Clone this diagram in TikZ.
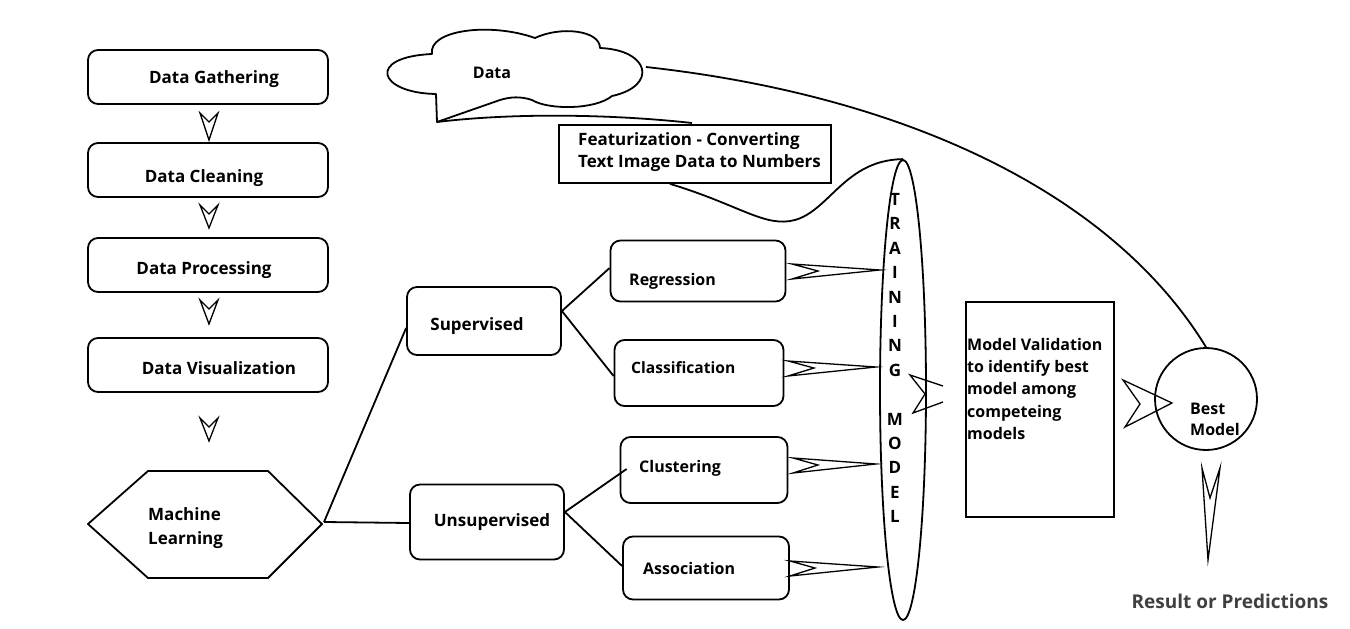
\documentclass[tikz,border=0pt]{standalone}
\usepackage{fontspec}
\setmainfont{Open Sans}
\usetikzlibrary{shapes.geometric,calc}
\begin{document}
\begin{tikzpicture}[x=1pt,y=-1pt,
  ln/.style={line width=1.8pt,line join=round},
  rbox/.style={draw,line width=1.8pt,rounded corners=10pt,inner sep=0pt},
  sbox/.style={draw,line width=1.8pt,inner sep=0pt},
  txt/.style={font=\bfseries\fontsize{16}{19}\selectfont,inner sep=0pt},
  big/.style={font=\bfseries\fontsize{17}{24}\selectfont},
  arw/.style={draw,line width=1.3pt,line join=miter,miter limit=20},
  ]
\useasboundingbox[fill=white] (0,0) rectangle (1350,629);

% left column
\node[rbox,minimum width=240pt,minimum height=54pt] (dg) at (208,77) {};
\node[txt,big] (dgt) at (214,79) {Data Gathering};
\node[rbox,minimum width=240pt,minimum height=54pt] (dc) at (208,170) {};
\node[txt,big] (dct) at (204,178) {Data Cleaning};
\node[rbox,minimum width=240pt,minimum height=54pt] (dp) at (208,265) {};
\node[txt,big] (dpt) at (204,270) {Data Processing};
\node[rbox,minimum width=240pt,minimum height=54pt] (dv) at (208,365) {};
\node[txt,big] (dvt) at (219,368) {Data Visualization};

% small down arrows
\foreach \y/\h in {113/27,205/23,300/24,418/23}{
  \draw[arw] (200,\y) -- (209,\y+\h) -- (218,\y) -- (209,\y+9) -- cycle;
}

% machine learning hexagon
\draw[ln] (88,524) -- (148,471) -- (268,471) -- (322,524) -- (268,578) -- (148,578) -- cycle;
\coordinate (mlR) at (324,522);
\node[txt,big,align=left,anchor=west] (mlt) at (148,528) {Machine\\Learning};

% cloud
\draw[ln] (437,122) -- (436,94) .. controls (378,93) and (366,57) .. (432,54)
  .. controls (428,30) and (490,22) .. (535,38)
  .. controls (560,26) and (600,30) .. (600,48)
  .. controls (650,50) and (658,86) .. (612,96)
  .. controls (595,110) and (548,110) .. (532,100)
  .. controls (520,96) and (510,97) .. (500,100) -- cycle;
\coordinate (cloudT) at (437,122);
\coordinate (cloudR) at (646,67);
\node[txt] (datat) at (492,73) {Data};
\coordinate (featTop) at (692,123);
\draw[ln] (cloudT) .. controls (520,112) and (620,115) .. (featTop);

% featurization
\node[sbox,minimum width=272pt,minimum height=58pt] (feat) at (695,154) {};
\node[txt,align=left,anchor=west,font=\bfseries\fontsize{17}{22}\selectfont] (featt) at (578,152) {Featurization - Converting\\Text Image Data to Numbers};

% training ellipse
\node[ellipse,draw,line width=1.8pt,minimum width=46pt,minimum height=460pt,inner sep=0pt] (train) at (903,390) {};
\node[font=\bfseries\fontsize{17}{24.4}\selectfont,align=center,inner sep=0pt] (traint) at (895,358)
  {T\\R\\A\\I\\N\\I\\N\\G\\[24.4pt]M\\O\\D\\E\\L};
\draw[ln] ([xshift=-25pt]feat.south) .. controls (740,205) and (765,228) .. (795,220)
  .. controls (830,210) and (845,160) .. (train.north);

% supervised / unsupervised
\node[rbox,minimum width=154pt,minimum height=68pt] (sup) at (484,321) {};
\node[txt,big] (supt) at (477,326) {Supervised};
\node[rbox,minimum width=154pt,minimum height=75pt] (uns) at (487,522) {};
\node[txt,big] (unst) at (492,522) {Unsupervised};

\node[rbox,minimum width=175pt,minimum height=61pt] (reg) at (698,271) {};
\node[txt,anchor=west] (regt) at (629,281) {Regression};
\node[rbox,minimum width=169pt,minimum height=66pt] (cla) at (699,373) {};
\node[txt,anchor=west,font=\bfseries\fontsize{15.6}{19}\selectfont] (clat) at (631,368) {Classification};
\node[rbox,minimum width=167pt,minimum height=66pt] (clu) at (704,470) {};
\node[txt,anchor=west] (clut) at (639,468) {Clustering};
\node[rbox,minimum width=166pt,minimum height=63pt] (aso) at (706,568) {};
\node[txt,anchor=west] (asot) at (643,568) {Association};

% connectors
\draw[ln] (mlR) -- ([yshift=-7pt]sup.west);
\draw[ln] (mlR) -- ([yshift=-1pt]uns.west);
\draw[ln] ([yshift=10pt]sup.east) -- ([yshift=3pt]reg.west);
\draw[ln] ([yshift=10pt]sup.east) -- ([yshift=-3pt]cla.west);
\draw[ln] ([yshift=10pt]uns.east) -- ([xshift=7pt,yshift=1pt]clu.west);
\draw[ln] ([yshift=10pt]uns.east) -- ([yshift=2pt]aso.west);

% arrows into training ellipse
\draw[arw] (792,264) -- (880,270) -- (792,279) -- (818,271) -- cycle;
\draw[arw] (788,361) -- (876,367) -- (788,376) -- (814,368) -- cycle;
\draw[arw] (793,458) -- (876,464) -- (793,473) -- (818,465) -- cycle;
\draw[arw] (790,561) -- (878,567) -- (790,576) -- (815,568) -- cycle;

% model validation
\node[sbox,minimum width=148pt,minimum height=215pt] (val) at (1040,409.5) {};
\node[txt,align=left,anchor=north west,font=\bfseries\fontsize{16}{22.3}\selectfont] (valt) at (967,338)
  {Model Validation\\to identify best\\model among\\competeing\\models};
\draw[arw] (943,386) -- (910,375) -- (925,394) -- (913,413) -- (943,402);

% best model
\node[circle,draw,line width=1.8pt,minimum size=102pt,inner sep=0pt] (best) at (1206,399) {};
\node[txt,align=left,anchor=west,font=\bfseries\fontsize{16}{21}\selectfont] (bestt) at (1190,419) {Best\\Model};
\draw[arw] (1123,380) -- (1172,403) -- (1125,427) -- (1140,404) -- cycle;
\draw[ln] (cloudR) .. controls (900,95) and (1110,190) .. (best.north);

% result
\draw[arw] (1202,468) -- (1208,560) -- (1220,468) -- (1210,498) -- cycle;
\node[txt,text=black!75,font=\bfseries\fontsize{19}{22}\selectfont] (res) at (1230,601) {Result or Predictions};
\end{tikzpicture}
\end{document}
